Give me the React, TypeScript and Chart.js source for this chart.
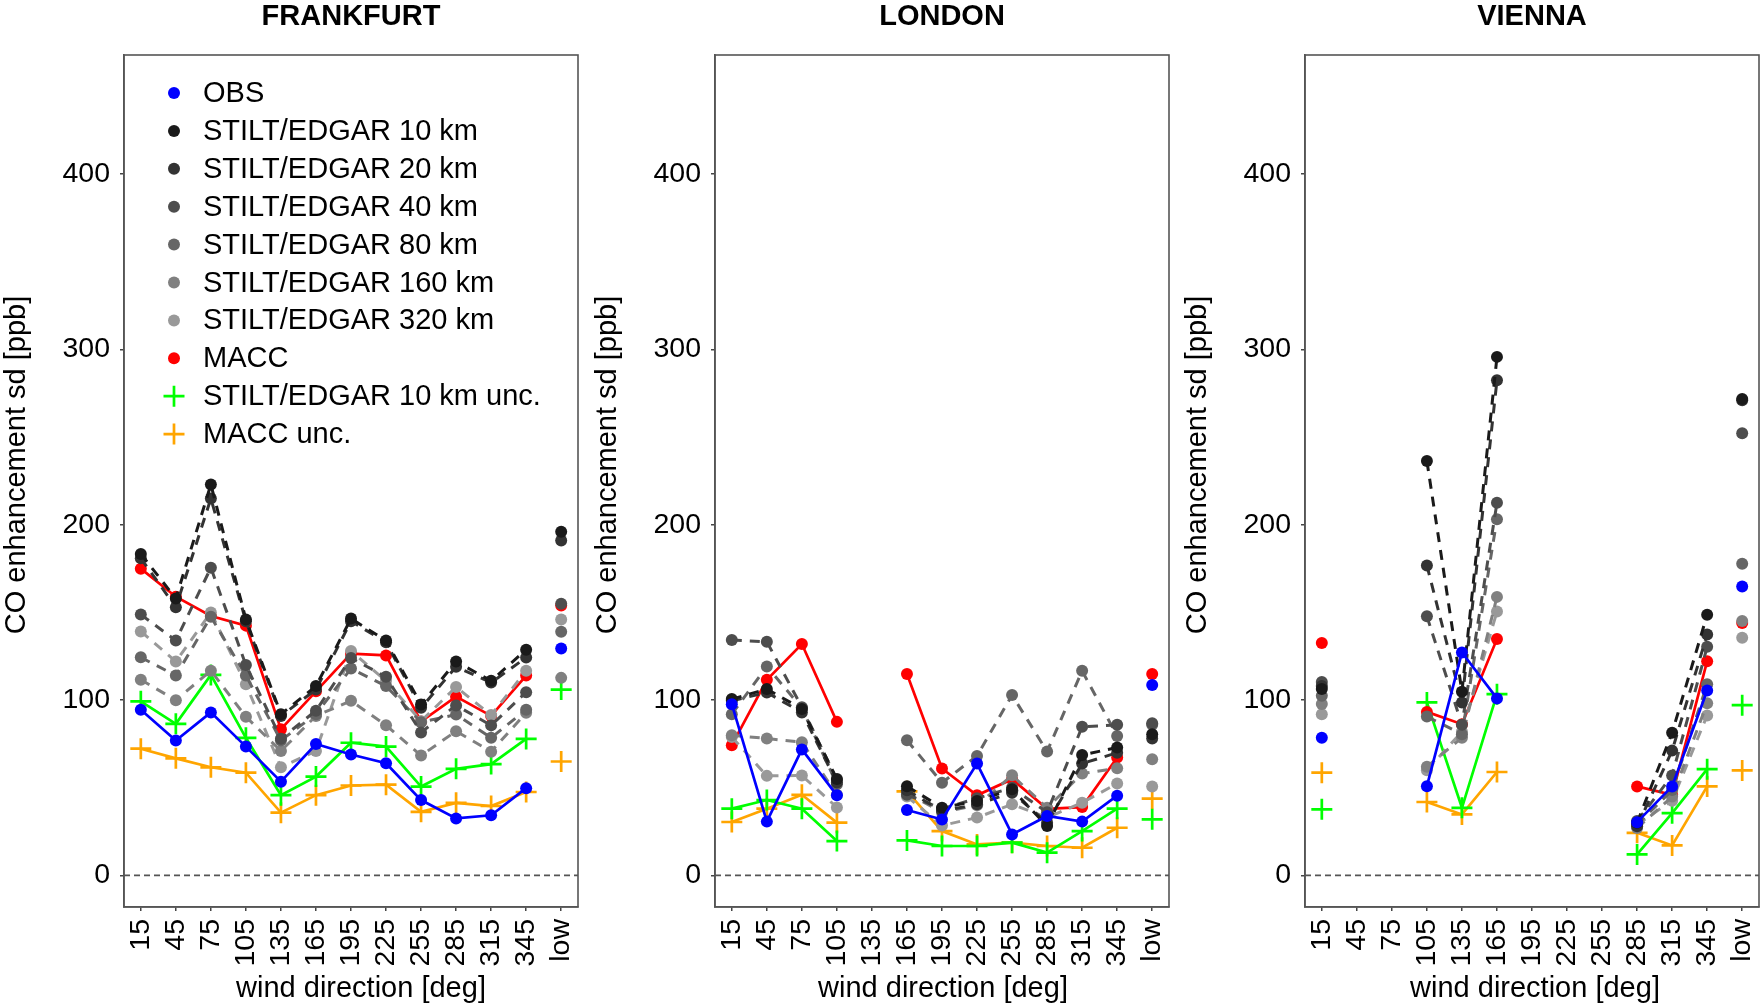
import React, { useEffect, useRef } from 'react';
import { Chart, registerables } from 'chart.js';

Chart.register(...registerables);

const FONT = '"Liberation Sans", Arial, Helvetica, sans-serif';

// ---------- data ----------
const xLabels = ['15', '45', '75', '105', '135', '165', '195', '225', '255', '285', '315', '345', 'low'];
const yTicks = [0, 100, 200, 300, 400];

const seriesNames = [
  'OBS',
  'STILT/EDGAR 10 km',
  'STILT/EDGAR 20 km',
  'STILT/EDGAR 40 km',
  'STILT/EDGAR 80 km',
  'STILT/EDGAR 160 km',
  'STILT/EDGAR 320 km',
  'MACC',
  'STILT/EDGAR 10 km unc.',
  'MACC unc.',
];
const seriesColors = ['#0000ff', '#1a1a1a', '#333333', '#4d4d4d', '#666666', '#808080', '#999999', '#ff0000', '#00ff00', '#ffa500'];

// FRANKFURT
const fraObs = [94.5, 77, 93, 73.5, 53.5, 75, 69, 64, 43, 32.5, 34.3, 49.8, 129.5];
const fraS10 = [183.4, 158, 223, 146, 92, 108, 146.5, 134, 97.5, 122, 111, 128.8, 196];
const fraS20 = [181, 153, 215, 145, 91, 106, 145, 133, 95.6, 119, 110, 124.3, 191];
const fraS40 = [148.8, 134, 175.5, 120, 78, 94, 124, 113.3, 81.6, 97, 85.6, 104.5, 155];
const fraS80 = [124.4, 114, 147.6, 114, 77, 92, 118, 108, 87.4, 91.8, 78.5, 94.5, 139];
const fraS160 = [111.6, 100, 116.8, 90.5, 71, 91, 99.6, 85.7, 68.4, 82.3, 70.6, 92.8, 112.7];
const fraS320 = [139.2, 122, 150, 109, 61.7, 71, 128, 111, 88, 107.5, 91.5, 116.7, 146];
const fraMacc = [175, 159, 148, 142.5, 83.4, 105, 126.5, 125.5, 87.8, 102, 91, 114, 154];
const fraUncS = [99.3, 86.5, 114.4, 78.5, 45.8, 56.4, 75.7, 73.5, 50.7, 60.8, 63.5, 77.9, 106];
const fraUncM = [72.3, 66.8, 61.7, 58.6, 35.8, 45.8, 51.3, 51.8, 36.3, 41.4, 39.6, 47.6, 65];

// LONDON
const lonObs = [97.7, 30.7, 71.9, 45.7, null, 37.3, 31.9, 63.8, 23.4, 33.9, 30.7, 45.5, 108.6];
const lonS10 = [100.6, 106.3, 95, 55, null, 50.9, 38.6, 42.5, 49.1, 28.2, 68.7, 73, 80.6];
const lonS20 = [99.6, 104.4, 93, 53, null, 48.6, 36.7, 40.6, 47.2, 30, 63.8, 70, 78.1];
const lonS40 = [134.3, 133.3, 96, 54.5, null, 46, 38, 44, 50, 36, 84.8, 85.9, 86.8];
const lonS80 = [92, 119.2, 95.5, 52, null, 77.1, 52.9, 68.2, 102.9, 70.7, 116.7, 79.6, 86];
const lonS160 = [80, 78.1, 76, 46, null, 47, 36, 40, 57.1, 38.6, 58.1, 61.1, 66.3];
const lonS320 = [79, 56.8, 57, 38.8, null, 45, 28.5, 33, 40.6, 33, 41.5, 52.4, 50.7];
const lonMacc = [74.3, 111.6, 132, 87.6, null, 114.9, 61, 45.7, 54.9, 38, 39, 67.3, 114.9];
const lonUncS = [38.1, 43, 38.1, 19.6, null, 20, 16.8, 16.8, 18.7, 13, 25.3, 38.1, 32];
const lonUncM = [30.5, 38.1, 46, 30.1, null, 48, 25.3, 17.7, 18.7, 16.8, 15.8, 27.2, 43.8];

// VIENNA
const vieObs = [78.6, null, null, 50.9, 127.2, 101, null, null, null, 30.4, 50.8, 105.5, 164.8];
const vieS10 = [106.3, null, null, 236.4, 104.8, 295.8, null, null, null, 30, 81.4, 148.7, 271.8];
const vieS20 = [108, null, null, 176.8, 98.7, 282.5, null, null, null, 28, 71.2, 137.5, 271];
const vieS40 = [110.4, null, null, 147.8, 86, 212.6, null, null, null, 31, 57, 130.4, 252.2];
const vieS80 = [102.5, null, null, 90.6, 80.6, 203.2, null, null, null, 29, 48.7, 109, 177.8];
const vieS160 = [97.8, null, null, 62, 78.6, 158.9, null, null, null, 27, 45, 98.2, 145.2];
const vieS320 = [92, null, null, 60, 82, 150.5, null, null, null, 29, 42.6, 91.3, 135.6];
const vieMacc = [132.6, null, null, 93.3, 86.3, 134.9, null, null, null, 50.8, 46, 122.2, 144];
const vieUncS = [37.7, null, null, 98.7, 38.6, 103.4, null, null, null, 12, 35.5, 60.6, 97.1];
const vieUncM = [58.6, null, null, 41.9, 34.8, 59, null, null, null, 24.3, 17.1, 50.8, 59.9];

type Vals = (number | null)[];

const panels: { title: string; series: Vals[]; legend: boolean; xTitleShift: number }[] = [
  { title: 'FRANKFURT', series: [fraObs, fraS10, fraS20, fraS40, fraS80, fraS160, fraS320, fraMacc, fraUncS, fraUncM], legend: true, xTitleShift: 10 },
  { title: 'LONDON', series: [lonObs, lonS10, lonS20, lonS40, lonS80, lonS160, lonS320, lonMacc, lonUncS, lonUncM], legend: false, xTitleShift: 1 },
  { title: 'VIENNA', series: [vieObs, vieS10, vieS20, vieS40, vieS80, vieS160, vieS320, vieMacc, vieUncS, vieUncM], legend: false, xTitleShift: 3 },
];

const Y_TITLE = 'CO enhancement sd [ppb]';
const X_TITLE = 'wind direction [deg]';

// ---------- helpers ----------
function makeDatasets(series: Vals[]) {
  return series.map((vals, k) => {
    const color = seriesColors[k];
    const isCross = k >= 8;
    const dashed = k >= 1 && k <= 6;
    const last = vals.length - 1;
    return {
      label: seriesNames[k],
      data: vals.map((v, i) => ({ x: i + 1, y: v })),
      borderColor: color,
      backgroundColor: color,
      borderWidth: dashed ? 3 : 2.7,
      borderDash: dashed ? [10, 8] : [],
      pointStyle: isCross ? 'cross' : 'circle',
      pointRadius: isCross ? 10.5 : 6,
      pointBorderWidth: isCross ? 2.7 : 0,
      pointBackgroundColor: color,
      pointBorderColor: color,
      spanGaps: false,
      tension: 0,
      segment: {
        borderColor: (ctx: any) => (ctx.p1DataIndex === last ? 'rgba(0,0,0,0)' : undefined),
      },
    };
  });
}

const framePlugin = {
  id: 'frame',
  beforeDatasetsDraw(chart: any) {
    const { ctx, chartArea: a, scales } = chart;
    const y0 = scales.y.getPixelForValue(0);
    ctx.save();
    ctx.strokeStyle = '#555555';
    ctx.lineWidth = 1.8;
    ctx.setLineDash([6, 4]);
    ctx.beginPath();
    ctx.moveTo(a.left, y0);
    ctx.lineTo(a.right, y0);
    ctx.stroke();
    ctx.setLineDash([]);
    ctx.lineWidth = 1.6;
    ctx.strokeStyle = '#555555';
    ctx.strokeRect(a.left, a.top, a.right - a.left, a.bottom - a.top);
    ctx.restore();
  },
};

// axis titles, placed like R's xlab / ylab
const axisTitlePlugin = {
  id: 'axisTitles',
  afterDraw(chart: any, _args: any, opts: any) {
    const { ctx, chartArea: a } = chart;
    ctx.save();
    ctx.font = `29px ${FONT}`;
    ctx.fillStyle = '#000000';
    ctx.textAlign = 'center';
    ctx.textBaseline = 'middle';
    ctx.fillText(opts.xText ?? '', (a.left + a.right) / 2 + (opts.xShift ?? 0), opts.xY ?? 989);
    ctx.translate(opts.yX ?? 17, opts.yY ?? 465);
    ctx.rotate(-Math.PI / 2);
    ctx.fillText(opts.yText ?? '', 0, 0);
    ctx.restore();
  },
};

const legendPlugin = {
  id: 'panelLegend',
  afterDraw(chart: any, _args: any, opts: any) {
    if (!opts || !opts.show) return;
    const { ctx, chartArea: a } = chart;
    ctx.save();
    ctx.font = `29px ${FONT}`;
    ctx.textBaseline = 'middle';
    ctx.textAlign = 'left';
    chart.data.datasets.forEach((ds: any, k: number) => {
      const y = a.top + 38 + k * 37.9;
      const mx = a.left + 50;
      ctx.fillStyle = ds.pointBackgroundColor;
      ctx.strokeStyle = ds.pointBorderColor;
      if (ds.pointStyle === 'cross') {
        ctx.lineWidth = 2.7;
        ctx.beginPath();
        ctx.moveTo(mx - 10.5, y);
        ctx.lineTo(mx + 10.5, y);
        ctx.moveTo(mx, y - 10.5);
        ctx.lineTo(mx, y + 10.5);
        ctx.stroke();
      } else {
        ctx.beginPath();
        ctx.arc(mx, y, 6, 0, Math.PI * 2);
        ctx.fill();
      }
      ctx.fillStyle = '#000000';
      ctx.fillText(ds.label, a.left + 79, y + 1);
    });
    ctx.restore();
  },
};

function Panel({ title, series, legend, left, xTitleShift }: { title: string; series: Vals[]; legend: boolean; left: number; xTitleShift: number }) {
  const ref = useRef<HTMLCanvasElement | null>(null);
  useEffect(() => {
    if (!ref.current) return;
    const font = { family: FONT, size: 28.5 };
    const chart = new Chart(ref.current, {
      type: 'line',
      data: { datasets: makeDatasets(series) as any },
      plugins: [framePlugin, legendPlugin, axisTitlePlugin],
      options: {
        animation: false,
        responsive: false,
        devicePixelRatio: 1,
        layout: { autoPadding: false, padding: { left: 0, right: 4, top: 0, bottom: 0 } },
        plugins: {
          legend: { display: false },
          tooltip: { enabled: false },
          title: {
            display: true,
            text: title,
            color: '#000000',
            font: { family: FONT, size: 29, weight: 'bold' },
            padding: { top: 0, bottom: 20.2 },
            fullSize: false,
          },
          panelLegend: { show: legend },
          axisTitles: { xText: X_TITLE, xShift: xTitleShift, xY: 989, yText: Y_TITLE, yX: 17, yY: 465 },
        } as any,
        scales: {
          x: {
            type: 'linear',
            min: 0.52,
            max: 13.48,
            afterBuildTicks: (s: any) => {
              s.ticks = xLabels.map((_, i) => ({ value: i + 1 }));
            },
            afterFit: (s: any) => {
              s.height = 101;
              s.paddingLeft = 0;
              s.paddingRight = 0;
            },
            ticks: {
              autoSkip: false,
              minRotation: 90,
              maxRotation: 90,
              padding: 8,
              color: '#000000',
              font,
              callback: (v: any) => xLabels[Math.round(Number(v)) - 1] ?? '',
            },
            grid: { drawOnChartArea: false, drawTicks: true, tickLength: 4, color: '#444444', lineWidth: 1.5 },
            border: { display: true, color: '#555555', width: 1.6 },
            title: { display: false },
          },
          y: {
            type: 'linear',
            min: -18,
            max: 468,
            afterBuildTicks: (s: any) => {
              s.ticks = yTicks.map((v) => ({ value: v }));
            },
            afterFit: (s: any) => {
              s.width = 124;
              s.paddingTop = 0;
              s.paddingBottom = 0;
            },
            ticks: { padding: 10, color: '#000000', font },
            grid: { drawOnChartArea: false, drawTicks: true, tickLength: 4, color: '#444444', lineWidth: 1.5 },
            border: { display: true, color: '#555555', width: 1.6 },
            title: { display: false },
          },
        },
      } as any,
    });
    return () => chart.destroy();
  }, [title, series, legend, xTitleShift]);
  return (
    <canvas
      ref={ref}
      width={582}
      height={1008}
      style={{ position: 'absolute', left, top: 0, width: 582, height: 1008 }}
    />
  );
}

const panelLefts = [0, 591, 1181];

export default function App() {
  return (
    <div style={{ position: 'absolute', left: 0, top: 0, width: 1763, height: 1008, background: '#ffffff', overflow: 'hidden' }}>
      {panels.map((p, i) => (
        <Panel key={p.title} title={p.title} series={p.series} legend={p.legend} left={panelLefts[i]} xTitleShift={p.xTitleShift} />
      ))}
    </div>
  );
}
